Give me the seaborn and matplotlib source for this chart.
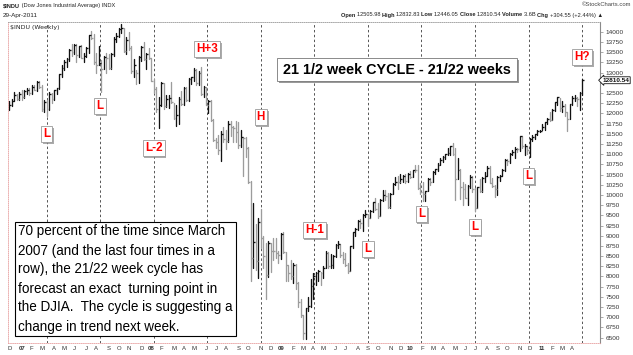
import numpy as np
import pandas as pd
import matplotlib
matplotlib.use("Agg")
import matplotlib.pyplot as plt
import matplotlib.patheffects as pe
from matplotlib.patches import Rectangle
from matplotlib import font_manager
import seaborn as sns

# weekly bars, week ending Friday, Dec 2006 -> Apr 2011
weeks = pd.date_range("2006-12-01", "2011-04-29", freq="W-FRI")

close = [
    12194, 12307, 12445, 12343, 12463,
    # 2007
    12398, 12556, 12566, 12487, 12654, 12581, 12768, 12647, 12114, 12276,
    12110, 12481, 12354, 12560, 12612, 12962, 13120, 13264, 13327, 13556,
    13507, 13668, 13424, 13639, 13361, 13409, 13611, 13908, 13851, 13266,
    13182, 13239, 13079, 13379, 13358, 13113, 13442, 13820, 13896, 14066,
    14093, 13522, 13806, 13595, 13042, 13176, 12980, 13371, 13625, 13339,
    13450, 13366,
    # 2008
    12800, 12606, 12099, 12207, 12743, 12182, 12348, 12381, 12266, 11894,
    11951, 12361, 12216, 12609, 12325, 12849, 12891, 13058, 12745, 12986,
    12480, 12638, 12209, 12307, 11843, 11346, 11288, 11100, 11496, 11370,
    11326, 11734, 11659, 11628, 11543, 11220, 11421, 11388, 11143, 10325,
    8451, 8852, 8378, 9325, 8943, 8497, 8046, 8829, 8635, 8629,
    8579, 8515,
    # 2009
    9034, 8599, 8281, 8077, 8001, 8280, 7850, 7366, 7063, 6627,
    7224, 7279, 7776, 8018, 8083, 8131, 8076, 8212, 8575, 8268,
    8278, 8500, 8764, 8799, 8539, 8438, 8280, 8146, 8743, 9093,
    9172, 9370, 9321, 9505, 9544, 9441, 9605, 9820, 9665, 9487,
    9865, 9995, 9972, 9713, 10023, 10270, 10318, 10310, 10388, 10471,
    10329, 10520, 10428,
    # 2010
    10618, 10610, 10172, 10067, 10012, 10099, 10402, 10325, 10566, 10625,
    10742, 10851, 10927, 10997, 11019, 11204, 11009, 10380, 10620, 10193,
    10137, 9931, 10212, 10450, 10144, 9686, 10198, 10098, 10425, 10466,
    10654, 10303, 10214, 10150, 10448, 10462, 10608, 10860, 10830, 11006,
    11063, 11133, 11118, 11445, 11193, 11204, 11092, 11382, 11410, 11492,
    11573, 11578,
    # 2011
    11675, 11787, 11872, 11824, 12092, 12273, 12391, 12130, 12170, 12044,
    11859, 12221, 12377, 12380, 12342, 12505, 12810.54,
]

high = [
    12290, 12342, 12510, 12480, 12510,
    12580, 12580, 12630, 12620, 12690, 12690, 12780, 12790, 12690, 12320,
    12330, 12530, 12500, 12580, 12630, 12970, 13180, 13300, 13350, 13570,
    13690, 13690, 13690, 13660, 13680, 13480, 13630, 13920, 14020, 13950,
    13470, 13660, 13300, 13410, 13480, 13460, 13470, 13870, 13960, 14090,
    14198, 14100, 13880, 14000, 13660, 13320, 13060, 13400, 13650, 13740,
    13470, 13600,
    13350, 12850, 12650, 12400, 12770, 12750, 12450, 12440, 12760, 12260,
    12200, 12400, 12550, 12650, 12650, 12870, 12900, 13100, 13080, 13030,
    13140, 12660, 12640, 12320, 12330, 11850, 11400, 11460, 11560, 11660,
    11590, 11800, 11810, 11680, 11800, 11790, 11600, 11430, 11420, 11180,
    10330, 9800, 9280, 9430, 9650, 9000, 8830, 8880, 8830, 8950,
    8950, 8620,
    9070, 9090, 8600, 8290, 8400, 8320, 8300, 7860, 7460, 7060,
    7240, 7490, 7930, 8080, 8100, 8150, 8120, 8250, 8620, 8590,
    8540, 8520, 8800, 8880, 8800, 8600, 8570, 8330, 8750, 9100,
    9200, 9390, 9420, 9530, 9630, 9530, 9630, 9830, 9920, 9800,
    9890, 10120, 10120, 10050, 10050, 10290, 10440, 10470, 10510, 10500,
    10520, 10540, 10580,
    10620, 10730, 10730, 10290, 10310, 10100, 10420, 10420, 10580, 10630,
    10780, 10900, 10950, 11000, 11150, 11210, 11260, 11160, 10900, 10640,
    10320, 10260, 10240, 10480, 10460, 10160, 10200, 10400, 10430, 10560,
    10720, 10720, 10420, 10240, 10460, 10480, 10630, 10880, 10870, 11020,
    11110, 11170, 11160, 11450, 11450, 11250, 11200, 11400, 11460, 11500,
    11580, 11600,
    11740, 11790, 11880, 12020, 12100, 12280, 12400, 12380, 12290, 12230,
    12030, 12230, 12420, 12450, 12390, 12510, 12832.83,
]

low = [
    12080, 12180, 12290, 12320, 12330,
    12330, 12380, 12480, 12450, 12470, 12560, 12540, 12620, 12050, 12040,
    11940, 12080, 12250, 12330, 12470, 12600, 12900, 13070, 13130, 13290,
    13400, 13450, 13260, 13380, 13350, 13250, 13390, 13490, 13830, 13200,
    12990, 13180, 12520, 13080, 13000, 13080, 13080, 13400, 13760, 13860,
    13980, 13500, 13460, 13540, 13000, 12880, 12720, 12740, 13280, 13300,
    13080, 13340,
    12790, 12500, 12040, 11630, 12180, 12100, 12160, 12130, 12250, 11850,
    11700, 11730, 12200, 12200, 12300, 12300, 12720, 12800, 12700, 12700,
    12450, 12400, 12200, 12000, 11820, 11330, 11150, 11000, 10830, 11300,
    11130, 11300, 11440, 11300, 11300, 11150, 11170, 10460, 10930, 10300,
    7880, 8200, 8170, 7970, 8690, 8200, 7450, 7980, 8100, 8400,
    8450, 8320,
    8420, 8570, 7900, 7900, 7950, 7850, 7700, 7250, 7000, 6470,
    6470, 7150, 7250, 7460, 7790, 7900, 7780, 7960, 8200, 8200,
    8210, 8200, 8480, 8690, 8480, 8320, 8260, 8090, 8130, 8700,
    9000, 9150, 9180, 9120, 9460, 9250, 9430, 9590, 9620, 9430,
    9490, 9860, 9880, 9680, 9670, 10020, 10250, 10150, 10280, 10310,
    10280, 10320, 10420,
    10430, 10550, 10140, 10030, 9840, 9840, 10090, 10240, 10320, 10510,
    10580, 10740, 10800, 10870, 10980, 10970, 10980, 9870, 10380, 9910,
    9760, 9920, 9760, 10180, 10080, 9610, 9680, 10080, 10080, 10320,
    10460, 10280, 10190, 9940, 9990, 10330, 10460, 10590, 10740, 10780,
    10970, 10900, 11050, 11080, 11140, 10990, 11000, 10930, 11330, 11370,
    11470, 11530,
    11580, 11600, 11740, 11800, 11830, 12050, 12200, 12060, 12040, 11930,
    11560, 11850, 12200, 12300, 12180, 12090, 12446.05,
]

assert len(close) == len(high) == len(low) == len(weeks), (len(close), len(high), len(low), len(weeks))

# 21.5 week cycle markers (bar index) and their tags
cycle_pos = [15, 36.5, 58, 79.5, 101, 122.5, 144, 165.5, 187, 208.5, 230]
cycle_tags = ["L", "L", "L-2", "H+3", "H", "H-1", "L", "L", "L", "L", "H?"]
tag_price = [11490, 12180, 11150, 13576, 11910, 9140, 8674, 9530, 9210, 10463, 13380]

yticks = list(range(6500, 14001, 250))
last_close = 12810.54

note_lines = [
    "70 percent of the time since March",
    "2007 (and the last four times in a",
    "row), the 21/22 week cycle has",
    "forecast an exact  turning point in",
    "the DJIA.  The cycle is suggesting a",
    "change in trend next week.",
]

sns.set_style("white")
plt.rcParams["font.family"] = ["Liberation Sans", "DejaVu Sans"]
names = {f.name for f in font_manager.fontManager.ttflist}
if "Liberation Sans Narrow" in names:
    NARROW = ["Liberation Sans Narrow", "DejaVu Sans"]
    nscale = 1.0
else:
    NARROW = ["Liberation Sans", "DejaVu Sans"]
    nscale = 0.84

W, H = 633, 355
fig = plt.figure(figsize=(W / 100, H / 100), dpi=100)
ax = fig.add_axes([8 / W, 12 / H, 592 / W, 321 / H])
fx = lambda x: x / W
fy = lambda y: 1 - y / H

idx = np.arange(len(close))
direction = ["up"] + ["up" if c >= p else "down" for c, p in zip(close[1:], close[:-1])]
bars = pd.DataFrame({
    "i": np.repeat(idx, 2),
    "price": np.ravel(np.column_stack([low, high])),
    "dir": np.repeat(direction, 2),
})
pal = {"up": "#111111", "down": "#9c9c9c"}
sns.lineplot(data=bars, x="i", y="price", units="i", estimator=None, hue="dir",
             palette=pal, lw=0.95, legend=False, sort=False, ax=ax)
ax.hlines(close, idx, idx + 0.75, colors=[pal[d] for d in direction], lw=0.95)

ax.set_xlim(-0.5, 237.2)
ax.set_ylim(6370, 14238)

# cycle lines and tags
for p, tag, yp in zip(cycle_pos, cycle_tags, tag_price):
    ax.axvline(p, color="#555555", lw=0.7, ls=(0, (2.5, 2.5)), zorder=1)
    t = ax.text(p, yp, tag, ha="center", va="center", color="#ff0000",
                fontsize=10 * nscale, fontweight="bold", family=NARROW, zorder=6,
                bbox=dict(boxstyle="square,pad=0.18", fc="white", ec="#9a9a9a", lw=0.6))
    t.get_bbox_patch().set_path_effects(
        [pe.withSimplePatchShadow(offset=(1.2, -1.2), shadow_rgbFace="#888888", alpha=0.7)])

# axes frame
for s in ["top", "left", "bottom"]:
    ax.spines[s].set_visible(True)
ax.spines["top"].set(color="#999999", lw=0.6, ls=(0, (1, 1.5)))
ax.spines["left"].set(color="#e8a0a0", lw=0.6, ls=(0, (1, 1.5)))
ax.spines["bottom"].set(color="#e8a0a0", lw=0.6, ls=(0, (1, 1.5)))
ax.spines["right"].set(color="#8a8a8a", lw=0.8)

ax.yaxis.tick_right()
ax.set_yticks(yticks)
# the last-price tag covers the 12750 label
ax.set_yticklabels(["" if v == 12750 else str(v) for v in yticks])
ax.tick_params(axis="y", length=2.5, width=0.5, color="#888888", labelsize=4.6,
               pad=1.5, labelcolor="#333333")
ax.set_xlabel("")
ax.set_ylabel("")

# month / year labels
pos, labs, is_year = [], [], []
letters = "JFMAMJJASOND"
for i, d in enumerate(weeks):
    if i == 0 or d.month != weeks[i - 1].month:
        pos.append(i)
        if d.month == 1:
            labs.append(d.strftime("%y"))
            is_year.append(True)
        else:
            labs.append(letters[d.month - 1])
            is_year.append(False)
ax.set_xticks(pos)
ax.set_xticklabels(labs)
ax.tick_params(axis="x", length=0, labelsize=4.3, pad=2.5, labelcolor="#333333")
for lab, yr in zip(ax.get_xticklabels(), is_year):
    if yr:
        lab.set_fontweight("bold")

# last price tag
ax.text(1.004, (last_close - 6370) / (14238 - 6370), "12810.54", transform=ax.transAxes,
        ha="left", va="center", fontsize=4.6, fontweight="bold", color="#111111",
        clip_on=False, zorder=8,
        bbox=dict(boxstyle="larrow,pad=0.15", fc="white", ec="#111111", lw=0.6))

# title box
fig.add_artist(Rectangle((fx(279), fy(82.5)), fx(240), 22.8 / H, fc="#9a9a9a", ec="none", zorder=9))
fig.add_artist(Rectangle((fx(277), fy(80.5)), fx(240), 22.8 / H, fc="white", ec="#777777", lw=0.6, zorder=10))
fig.text(fx(397), fy(69.5), "21 1/2 week CYCLE - 21/22 weeks", ha="center", va="center",
         fontsize=12.3 * nscale, fontweight="bold", family=NARROW, color="black", zorder=11)

# note box
fig.add_artist(Rectangle((fx(15), fy(336)), fx(221), 114 / H, fc="white", ec="black", lw=0.8, zorder=9))
for k, line in enumerate(note_lines):
    fig.text(fx(17.5), fy(231.5 + 19 * k), line, ha="left", va="center",
             fontsize=11.6 * nscale, family=NARROW, color="black", zorder=11)

renderer = fig.canvas.get_renderer()


def chain(pieces, x0, y0, target_w, size):
    made = []
    x = x0
    for txt, bold in pieces:
        t = fig.text(fx(x), fy(y0), txt, fontsize=size, family=NARROW, va="center",
                     fontweight="bold" if bold else "normal", color="#222222")
        bb = t.get_window_extent(renderer)
        x += bb.width
        made.append(t)
    width = x - x0
    k = target_w / width
    x = x0
    for t in made:
        t.set_fontsize(size * k)
        t.set_x(fx(x))
        x += t.get_window_extent(renderer).width


chain([("$INDU", True), (" (Dow Jones Industrial Average) INDX", False)], 3, 6, 114, 5)
fig.text(fx(3), fy(15), "29-Apr-2011", fontsize=4.6, family=NARROW, va="center", color="#222222")
fig.text(fx(10), fy(27), "$INDU (Weekly)", fontsize=4.5, family="DejaVu Sans", va="center", color="#222222")
fig.text(fx(631), fy(4.5), "\u00a9StockCharts.com", fontsize=4.2, family=NARROW, ha="right",
         va="center", color="#444444")
chain([("Open ", True), ("12505.98 ", False), ("High ", True), ("12832.83 ", False),
       ("Low ", True), ("12446.05 ", False), ("Close ", True), ("12810.54 ", False),
       ("Volume ", True), ("3.6B ", False), ("Chg ", True), ("+304.55 (+2.44%) \u25b2", False)],
      341, 15, 262, 5)

fig.savefig("out.png", dpi=100)
